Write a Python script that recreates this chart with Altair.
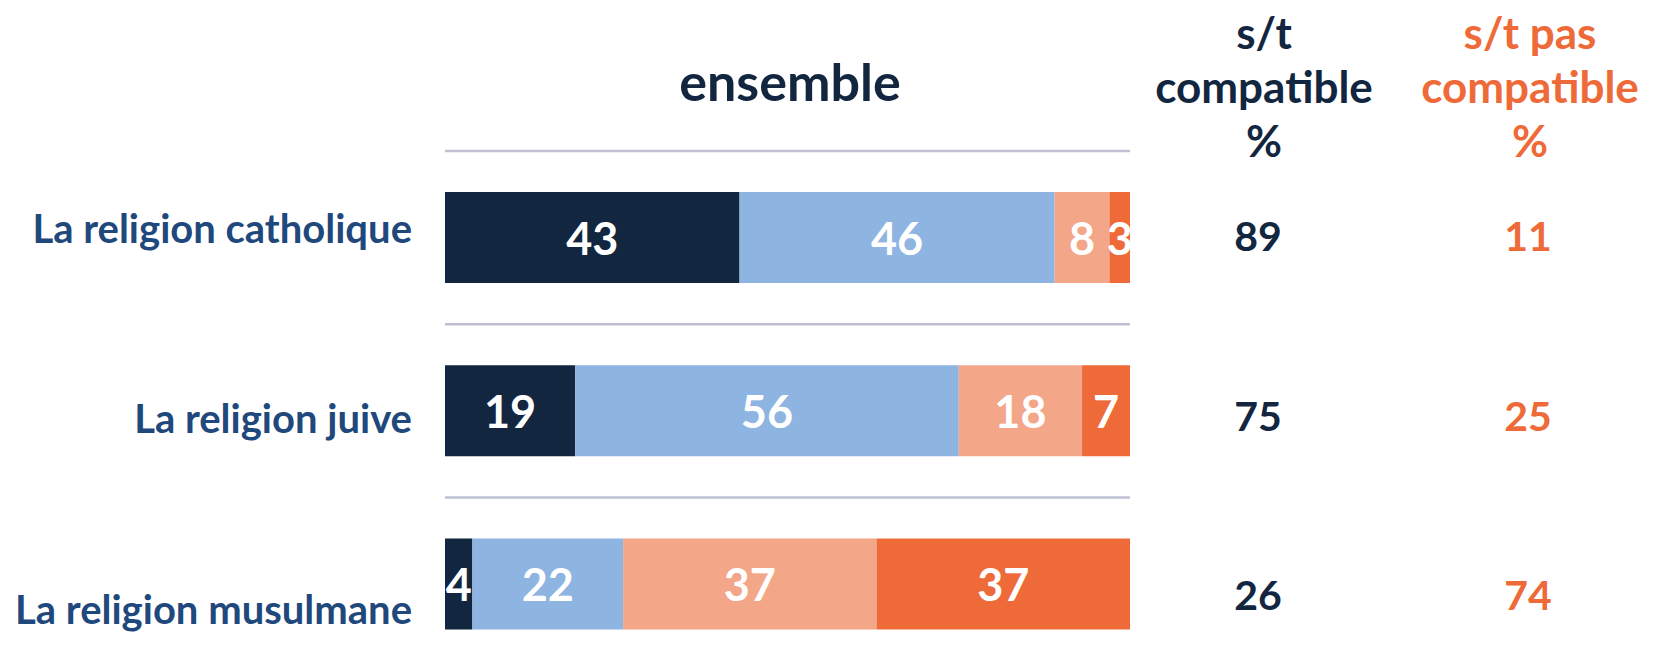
import altair as alt
import pandas as pd

categories = ["La religion catholique", "La religion juive", "La religion musulmane"]
levels = ["Très compatible", "Plutôt compatible", "Plutôt pas compatible", "Pas du tout compatible"]
tres_compatible = [43, 19, 4]
plutot_compatible = [46, 56, 22]
plutot_pas_compatible = [8, 18, 37]
pas_du_tout_compatible = [3, 7, 37]
st_compatible = [89, 75, 26]
st_pas_compatible = [11, 25, 74]

colors = ["#13263F", "#8EB4E2", "#F3A688", "#EE6A38"]
NAVY = "#13263F"
ORANGE = "#EE6A38"
LABEL_BLUE = "#1F487C"
FONT = "Lato"

series = [tres_compatible, plutot_compatible, plutot_pas_compatible, pas_du_tout_compatible]
rows = []
for i, cat in enumerate(categories):
    start = 0
    for j, lev in enumerate(levels):
        v = series[j][i]
        rows.append({"cat": cat, "idx": i, "level": lev, "ord": j, "value": v,
                     "start": start, "end": start + v, "mid": start + v / 2})
        start += v
bars_df = pd.DataFrame(rows)
summary_df = pd.DataFrame({"cat": categories, "idx": list(range(len(categories))),
                           "compat": st_compatible, "pas": st_pas_compatible})

xs = alt.Scale(domain=[0, 100], range=[437, 1122], padding=0, nice=False, zero=False)
ys = alt.Scale(domain=[0, 2], range=[229.5, 576], padding=0, nice=False, zero=False)

base = alt.Chart(bars_df)

bars = base.mark_bar(size=91, orient="horizontal").encode(
    x=alt.X("start:Q", scale=xs, axis=None),
    x2="end:Q",
    y=alt.Y("idx:Q", scale=ys, axis=None),
    color=alt.Color("level:N", scale=alt.Scale(domain=levels, range=colors), legend=None),
)

bar_text = base.mark_text(font=FONT, fontWeight="bold", fontSize=45, color="white",
                          baseline="alphabetic", dy=17).encode(
    x=alt.X("mid:Q", scale=xs, axis=None),
    y=alt.Y("idx:Q", scale=ys, axis=None),
    text="value:Q",
)

seps = alt.Chart(summary_df).transform_calculate(
    sep="datum.idx - 0.5", x0="0", x1="100").mark_rule(
    color="#BFC0D4", strokeWidth=2.5).encode(
    x=alt.X("x0:Q", scale=xs, axis=None),
    x2="x1:Q",
    y=alt.Y("sep:Q", scale=ys, axis=None),
)

layers = [seps, bars, bar_text]

label_dy = [5.5, 22.5, 40]
num_dy = [13.5, 20.5, 26]
for i, cat in enumerate(categories):
    s = alt.Chart(summary_df).transform_filter(alt.datum.idx == i)
    layers.append(s.mark_text(font=FONT, fontWeight="bold", fontSize=40, color=LABEL_BLUE,
                              align="right", baseline="alphabetic", dy=label_dy[i]).encode(
        x=alt.value(404), y=alt.Y("idx:Q", scale=ys, axis=None), text="cat:N"))
    layers.append(s.mark_text(font=FONT, fontWeight="bold", fontSize=41, color=NAVY,
                              align="center", baseline="alphabetic", dy=num_dy[i]).encode(
        x=alt.value(1250), y=alt.Y("idx:Q", scale=ys, axis=None), text="compat:Q"))
    layers.append(s.mark_text(font=FONT, fontWeight="bold", fontSize=41, color=ORANGE,
                              align="center", baseline="alphabetic", dy=num_dy[i]).encode(
        x=alt.value(1520), y=alt.Y("idx:Q", scale=ys, axis=None), text="pas:Q"))

hdr = alt.Chart(summary_df).transform_filter(alt.datum.idx == 0)
layers.append(hdr.mark_text(font=FONT, fontWeight="bold", fontSize=52, color=NAVY,
                            align="center", baseline="alphabetic",
                            text="ensemble").encode(x=alt.value(782), y=alt.value(93)))
header_left = ["s/t", "compatible", "%"]
header_right = ["s/t pas", "compatible", "%"]
header_y = [41, 95, 149]
for k in range(3):
    layers.append(hdr.mark_text(font=FONT, fontWeight="bold", fontSize=44, color=NAVY,
                                align="center", baseline="alphabetic",
                                text=header_left[k]).encode(
        x=alt.value(1256), y=alt.value(header_y[k])))
    layers.append(hdr.mark_text(font=FONT, fontWeight="bold", fontSize=44, color=ORANGE,
                                align="center", baseline="alphabetic",
                                text=header_right[k]).encode(
        x=alt.value(1522), y=alt.value(header_y[k])))

chart = alt.layer(*layers).properties(
    width=1639, height=652, autosize="none", padding=0, background="white"
).configure_view(stroke=None)

chart.save("out.html", embed_options={"renderer": "svg", "actions": False})
